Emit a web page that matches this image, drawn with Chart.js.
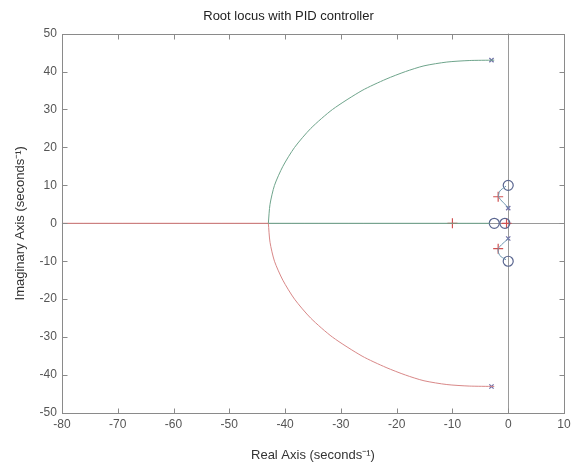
<!DOCTYPE html>
<html>
<head>
<meta charset="utf-8">
<script src="https://cdn.jsdelivr.net/npm/chart.js@4.4.1/dist/chart.umd.min.js"></script>
<style>
  html, body { margin: 0; padding: 0; background: #fff; }
  #wrap { width: 583px; height: 466px; }
</style>
</head>
<body>
<div id="wrap"><canvas id="chart_rlocus"></canvas></div>
<script>
// root locus branches (real, imaginary)
var upperArcRe = [-2.5, -7, -11, -15.1, -18.4, -21.9, -26.2, -31.5, -35.4, -38.3, -40.4, -41.9, -42.7, -43];
var upperArcIm = [43, 42.9, 42.5, 41.5, 40, 38, 35, 30, 25, 20, 15, 10, 5, 0];
var lowerArcRe = [-43, -42.7, -41.9, -40.4, -38.3, -35.4, -31.5, -26.2, -21.9, -18.4, -15.1, -11, -7, -2.5];
var lowerArcIm = [0, -5, -10, -15, -20, -25, -30, -35, -38, -40, -41.5, -42.5, -42.9, -43];
var realLeftRe = [-80, -43];
var realRightRe = [-43, -3.3];
var upperSmallRe = [0.1, -1.7, -1.5, -0.4];
var upperSmallIm = [4, 6.9, 8.5, 9.8];
var lowerSmallRe = [0.1, -1.8, -1.5, -0.4];
var lowerSmallIm = [-3.9, -6.7, -8.5, -9.6];

// markers
var polesRe = [-3, -3, 0, 0];
var polesIm = [43, -43, 4, -4];
var zerosRe = [0, 0, -2.5, -0.6];
var zerosIm = [10, -10, 0, 0];
var closedRe = [-1.8, -1.8, -10, -0.3];
var closedIm = [7, -6.7, 0, 0];

var xTicks = [-80, -70, -60, -50, -40, -30, -20, -10, 0, 10];
var yTicks = [-50, -40, -30, -20, -10, 0, 10, 20, 30, 40, 50];

function pts(re, im) {
    return re.map(function(r, i) { return { x: r, y: im[i] }; });
}
function onAxis(re) {
    return re.map(function(r) { return { x: r, y: 0 }; });
}

function lineSet(data, color) {
    return {
        data: data,
        showLine: true,
        borderColor: color,
        borderWidth: 1,
        pointRadius: 0,
        tension: 0.25
    };
}
function markSet(data, style, color, radius) {
    return {
        data: data,
        showLine: false,
        pointStyle: style,
        pointRadius: radius,
        borderColor: color,
        backgroundColor: 'rgba(0,0,0,0)',
        pointBorderWidth: 1.2
    };
}

var axisBox = {
    id: 'axisBox',
    beforeDatasetsDraw: function(chart) {
        var ctx = chart.ctx, a = chart.chartArea;
        var xs = chart.scales.x, ys = chart.scales.y;
        ctx.save();
        ctx.strokeStyle = '#9a9a9a';
        ctx.lineWidth = 1;
        // zero lines
        var x0 = Math.round(xs.getPixelForValue(0)) + 0.5;
        var y0 = Math.round(ys.getPixelForValue(0)) + 0.5;
        ctx.beginPath();
        ctx.moveTo(x0, a.top); ctx.lineTo(x0, a.bottom);
        ctx.moveTo(a.left, y0); ctx.lineTo(a.right, y0);
        ctx.stroke();
        ctx.restore();
    },
    afterDraw: function(chart) {
        var ctx = chart.ctx, a = chart.chartArea;
        var xs = chart.scales.x, ys = chart.scales.y;
        ctx.save();
        ctx.strokeStyle = '#8a8a8a';
        ctx.lineWidth = 1;
        var L = Math.round(a.left) + 0.5, R = Math.round(a.right) + 0.5;
        var T = Math.round(a.top) + 0.5, B = Math.round(a.bottom) + 0.5;
        ctx.strokeRect(L, T, R - L, B - T);
        ctx.beginPath();
        xTicks.forEach(function(v) {
            var p = Math.round(xs.getPixelForValue(v)) + 0.5;
            ctx.moveTo(p, B); ctx.lineTo(p, B - 5);
            ctx.moveTo(p, T); ctx.lineTo(p, T + 5);
        });
        yTicks.forEach(function(v) {
            var p = Math.round(ys.getPixelForValue(v)) + 0.5;
            ctx.moveTo(L, p); ctx.lineTo(L + 5, p);
            ctx.moveTo(R, p); ctx.lineTo(R - 5, p);
        });
        ctx.stroke();
        ctx.restore();
    }
};

var chart_rlocus = new Chart(document.getElementById('chart_rlocus'), {
    type: 'scatter',
    data: {
        datasets: [
            lineSet(onAxis(realLeftRe), '#d97a7a'),
            lineSet(onAxis(realRightRe), '#6fa58c'),
            lineSet(pts(upperArcRe, upperArcIm), '#6fa58c'),
            lineSet(pts(lowerArcRe, lowerArcIm), '#d98888'),
            lineSet(pts(upperSmallRe, upperSmallIm), '#6f98b0'),
            lineSet(pts(lowerSmallRe, lowerSmallIm), '#6f98b0'),
            markSet(pts(polesRe, polesIm), 'crossRot', '#7070a8', 3),
            markSet(pts(zerosRe, zerosIm), 'circle', '#5a6690', 5),
            markSet(pts(closedRe, closedIm), 'cross', '#d05050', 5)
        ]
    },
    options: {
        animation: false,
        responsive: true,
        maintainAspectRatio: false,
        layout: { padding: { left: 13, right: 19, top: 0, bottom: 3 } },
        plugins: {
            legend: { display: false },
            tooltip: { enabled: false },
            title: {
                display: true,
                text: 'Root locus with PID controller',
                color: '#222',
                font: { family: 'Liberation Sans', size: 13, weight: 'normal' },
                padding: { top: 9, bottom: 9 }
            }
        },
        scales: {
            x: {
                type: 'linear',
                min: -80,
                max: 10,
                grid: { display: false, drawTicks: false },
                border: { display: false },
                ticks: {
                    stepSize: 10,
                    color: '#555',
                    padding: 4,
                    font: { family: 'Liberation Sans', size: 12 }
                },
                title: {
                    display: true,
                    text: 'Real Axis (seconds\u207B\u00B9)',
                    color: '#333',
                    font: { family: 'Liberation Sans', size: 13 },
                    padding: { top: 12, bottom: 0 }
                }
            },
            y: {
                type: 'linear',
                min: -50,
                max: 50,
                grid: { display: false, drawTicks: false },
                border: { display: false },
                ticks: {
                    stepSize: 10,
                    color: '#555',
                    padding: 5,
                    font: { family: 'Liberation Sans', size: 12 }
                },
                title: {
                    display: true,
                    text: 'Imaginary Axis (seconds\u207B\u00B9)',
                    color: '#333',
                    font: { family: 'Liberation Sans', size: 13 },
                    padding: { top: 0, bottom: 6 }
                }
            }
        }
    },
    plugins: [axisBox, {
        id: 'whiteBg',
        beforeDraw: function(chart) {
            var ctx = chart.canvas.getContext('2d');
            ctx.save();
            ctx.globalCompositeOperation = 'destination-over';
            ctx.fillStyle = 'white';
            ctx.fillRect(0, 0, chart.canvas.width, chart.canvas.height);
            ctx.restore();
        }
    }]
});
</script>
</body>
</html>
